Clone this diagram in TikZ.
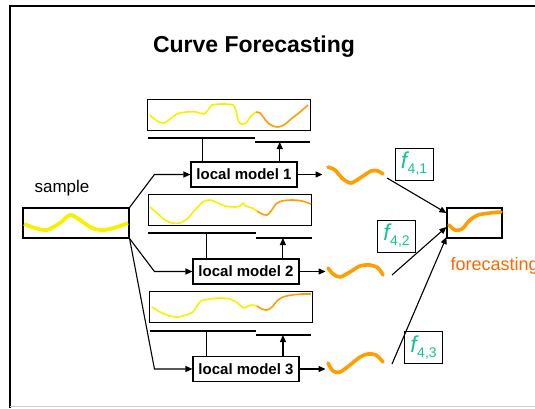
\documentclass[tikz,border=0pt]{standalone}
\usepackage{fontspec}
\setmainfont{Liberation Sans}
\usetikzlibrary{positioning,arrows.meta}

\definecolor{pastyellow}{RGB}{248,240,0}
\definecolor{curveorange}{RGB}{255,158,0}
\definecolor{textorange}{RGB}{255,102,0}
\definecolor{wgreen}{RGB}{20,196,150}

\tikzset{
	model/.style={draw, line width=1.1pt, fill=white, inner sep=0pt,
		minimum width=106pt, minimum height=25pt,
		font=\fontsize{15}{15}\selectfont\bfseries},
	plotbox/.style={draw, line width=1.1pt, inner sep=0pt,
		minimum width=163pt, minimum height=31pt},
	weight/.style={draw, line width=0.7pt, inner sep=0pt,
		minimum width=38pt, minimum height=32pt, text=wgreen},
	conn/.style={line width=1.1pt, -{Triangle[length=7pt,width=6pt]}},
	seg/.style={line width=1.1pt},
	past/.style={pastyellow, line width=1.6pt},
	future/.style={curveorange, line width=1.6pt},
	fcurve/.style={curveorange, line width=3.6pt, line cap=round},
}

% weight label f_{i,j}
\newcommand{\fw}[1]{\raisebox{1pt}{\fontsize{23}{23}\selectfont\itshape f}\kern0.5pt\raisebox{-4pt}{\fontsize{14}{14}\selectfont #1}}

\begin{document}
\begin{tikzpicture}[x=1pt, y=-1pt]
	\useasboundingbox (0,0) rectangle (535,408);
	
	%% frame
	\draw[line width=2pt] (10,408) -- (10,6) -- (535,6);
	\draw[black!20, line width=1pt] (10,406) -- (535,406);
	
	\node[font=\fontsize{23}{23}\selectfont\bfseries](title) at (254,47){Curve Forecasting};
	
	%% SAMPLE
	\node[draw, line width=1.1pt, inner sep=0pt, minimum width=106pt, minimum height=30pt](sample) at (76,223){};
	\node[above=8pt of sample, xshift=-14pt, font=\fontsize{17}{17}\selectfont](sample_lbl){sample};
	\draw[pastyellow, line width=3.8pt] plot[smooth] coordinates
		{(24,224) (35,228) (47,230) (60,223) (70,215) (80,220) (92,228) (104,230) (117,227) (128,223)};
	
	%% LOCAL MODELS
	\node[model](lm1) at (244,174.5){local model 1};
	\node[model](lm2) at (246,271.5){local model 2};
	\node[model](lm3) at (246,369){local model 3};
	
	\node[plotbox](plot1) at (229,115){};
	\node[plotbox](plot2) at (230,210){};
	\node[plotbox](plot3) at (231,307){};
	
	% model 1
	\draw[past] plot[smooth, tension=0.5] coordinates
		{(150,115) (157,121) (164,123) (170,119) (177,114) (186,112) (196,112) (204,114) (208,110) (212,105) (223,104) (233,105) (236,111) (238,120) (241,124) (246,123) (251,116) (256,112)};
	\draw[future] plot[smooth, tension=0.5] coordinates
		{(256,112) (260,113) (264,118) (268,123) (273,126) (278,127) (284,125) (290,120) (300,112) (308,105)};
	\draw[seg] (148,138) -- coordinate[pos=0.51](h1) (255,138);
	\draw[seg] (255,142) -- coordinate[pos=0.45](g1) (310,142);
	\draw[seg] (h1 |- lm1.north) -- (h1);
	\draw[conn] (g1 |- lm1.north) -- (g1);
	
	% model 2
	\draw[past] plot[smooth, tension=0.5] coordinates
		{(150,207) (158,214) (165,220) (172,223) (180,223) (188,218) (195,210) (203,202) (210,200) (218,203) (225,206) (235,207) (240,206) (243,203) (246,206) (252,208) (257,211)};
	\draw[future] plot[smooth, tension=0.5] coordinates
		{(257,211) (262,214) (267,215) (271,211) (276,204) (282,201) (292,200) (302,201) (311,204)};
	\draw[seg] (148,233) -- coordinate[pos=0.54](h2) (256,233);
	\draw[seg] (256,238) -- coordinate[pos=0.48](g2) (312,238);
	\draw[seg] (h2 |- lm2.north) -- (h2);
	\draw[conn] (g2 |- lm2.north) -- (g2);
	
	% model 3
	\draw[past] plot[smooth, tension=0.5] coordinates
		{(152,307) (160,312) (170,316) (178,317) (186,315) (193,312) (197,306) (201,301) (210,299) (220,298) (230,299) (236,302) (240,305) (244,308) (248,306) (252,305) (257,306)};
	\draw[future] plot[smooth, tension=0.5] coordinates
		{(257,306) (262,309) (267,310) (272,307) (277,301) (283,297) (292,295) (302,294) (311,294)};
	\draw[seg] (150,331) -- coordinate[pos=0.53](h3) (256,331);
	\draw[seg] (256,335) -- coordinate[pos=0.49](g3) (311,335);
	\draw[seg] (h3 |- lm3.north) -- (h3);
	\draw[conn] (g3 |- lm3.north) -- (g3);
	
	\draw[conn] (sample.north east) -- ([xshift=-36pt]lm1.west) -- (lm1.west);
	\draw[conn] (sample.south east) -- ([xshift=-38pt]lm2.west) -- (lm2.west);
	\draw[conn] (sample.south east) -- ([xshift=-38pt]lm3.west) -- (lm3.west);
	
	%% LOCAL FORECASTS
	\draw[conn] (lm1.east) -- ++(25,0);
	\draw[conn] (lm2.east) -- ++(26,0);
	\draw[conn] (lm3.east) -- ++(26,0);
	
	\draw[fcurve] plot[smooth] coordinates
		{(328,167) (335,170) (343,179) (351,183) (360,178) (371,171) (378,171) (383,174)};
	\draw[fcurve] plot[smooth] coordinates
		{(328,268) (333,274) (340,277) (350,272) (360,266) (370,265) (378,268) (383,275)};
	\draw[fcurve] plot[smooth] coordinates
		{(328,363) (333,371) (340,372) (350,365) (360,357) (368,354) (376,355) (383,362)};
	\coordinate (out1) at (387,178);
	\coordinate (out2) at (392,275);
	\coordinate (out3) at (392,364);
	
	%% COMBINATION
	\node[draw, line width=1.1pt, inner sep=0pt, minimum width=55pt, minimum height=30pt](fc) at (474.5,223){};
	\draw[fcurve] plot[smooth] coordinates
		{(449,225) (455,230) (462,229) (470,220) (478,215) (490,213) (501,212)};
	\node[anchor=west, text=textorange, font=\fontsize{18}{18}\selectfont](fc_lbl) at (447,266){forecasting};
	
	\draw[conn] (out1) -- ([yshift=10pt]fc.west);
	\draw[conn] (out2) -- ([yshift=-4pt]fc.west);
	\draw[conn] (out3) -- ([yshift=-14pt]fc.west);
	
	\node[weight](f41) at (414,164){\fw{4,1}};
	\node[weight](f42) at (396.5,236){\fw{4,2}};
	\node[weight](f43) at (423.5,347.5){\fw{4,3}};
	
\end{tikzpicture}
\end{document}
